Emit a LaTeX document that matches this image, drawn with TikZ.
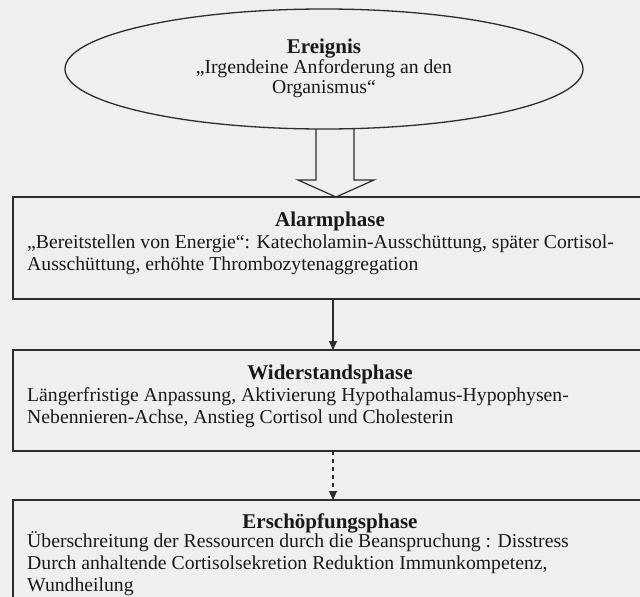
\documentclass[tikz,border=0pt]{standalone}
\usepackage{fontspec}
\setmainfont{Liberation Serif}
\usetikzlibrary{arrows.meta,calc,shapes.geometric}
\definecolor{bg}{RGB}{239,239,239}
\definecolor{ln}{RGB}{45,45,45}
\definecolor{tx}{RGB}{25,25,25}
\begin{document}
\begin{tikzpicture}[x=1pt,y=1pt,
  boxst/.style={draw=ln,line width=1.3pt,rectangle,inner sep=0pt,outer sep=0pt,minimum width=634pt,anchor=north west},
  ttl/.style={text=tx,inner sep=0pt,anchor=base,font={\fontsize{21pt}{22pt}\selectfont\bfseries}},
  bdy/.style={text=tx,inner sep=0pt,anchor=base west,align=left,font={\fontsize{19.7pt}{22pt}\selectfont}},
  arr/.style={draw=ln,line width=1.1pt,-{Triangle[width=8pt,length=9pt]}},
  blk/.style={draw=ln,line width=1.2pt,line join=miter}]
\fill[bg] (0,0) rectangle (640,-597);
\useasboundingbox (0,0) rectangle (640,-597);
% ellipse
\node[draw=ln,line width=1.3pt,ellipse,minimum width=518pt,minimum height=120pt,inner sep=0pt,outer sep=0pt] (ev) at (324,-69) {};
\node[ttl] (evt) at (324,-53) {Ereignis};
\node[text=tx,inner sep=0pt,anchor=base,align=center,font={\fontsize{19.7pt}{20pt}\selectfont}] (evb) at (324,-93) {„Irgendeine Anforderung an den\\Organismus“};
% boxes
\node[boxst,minimum height=102pt] (b1) at (13,-197) {};
\node[boxst,minimum height=101pt] (b2) at (13,-350) {};
\node[boxst,minimum height=110pt] (b3) at (13,-500) {};
% box texts (base = baseline of last line)
\node[ttl] (t1) at (330,-226) {Alarmphase};
\node[bdy] (d1) at (27,-270) {„Bereitstellen von Energie“: Katecholamin-Ausschüttung, später Cortisol-\\Ausschüttung, erhöhte Thrombozytenaggregation};
\node[ttl] (t2) at (330,-379) {Widerstandsphase};
\node[bdy] (d2) at (27,-423) {Längerfristige Anpassung, Aktivierung Hypothalamus-Hypophysen-\\Nebennieren-Achse, Anstieg Cortisol und Cholesterin};
\node[ttl] (t3) at (330,-528) {Erschöpfungsphase};
\node[bdy] (d3) at (27,-591) {Überschreitung der Ressourcen durch die Beanspruchung : Disstress\\Durch anhaltende Cortisolsekretion Reduktion Immunkompetenz,\\Wundheilung};
% block arrow
\coordinate (tip) at (b1.north -| 336,0);
\draw[blk] (ev.south -| 316,0) -- (316,-180) -- (298,-180) -- (tip) -- (374,-180) -- (354,-180) -- (ev.south -| 354,0);
% connectors
\draw[arr] (b1.south -| 333,0) -- (b2.north -| 333,0);
\draw[arr,dash pattern=on 4pt off 4pt] (b2.south -| 333,0) -- (b3.north -| 333,0);
\end{tikzpicture}
\end{document}
